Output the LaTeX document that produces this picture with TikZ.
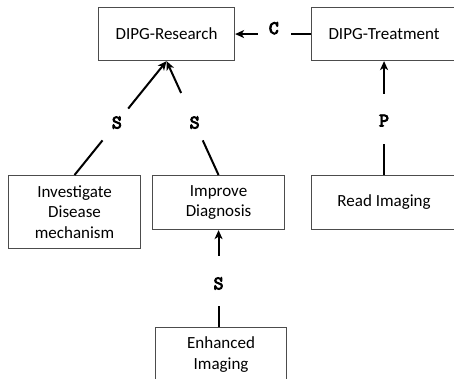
\documentclass[tikz,border=0pt]{standalone}
\usepackage{fontspec}
\setmainfont{Carlito}
\newfontfamily\labelfont{Latin Modern Mono}[FakeBold=5]
\usetikzlibrary{arrows.meta}
\begin{document}
\begin{tikzpicture}[x=1pt,y=-1pt,
  goal/.style={draw=black!70,line width=1.1pt,align=center,font=\fontsize{17}{20.7}\selectfont,inner sep=0pt,anchor=north west},
  rel/.style={font=\labelfont\fontsize{19}{20}\selectfont,inner sep=0pt},
  link/.style={line width=2pt},
  linkarrow/.style={line width=2pt,-{Stealth[length=9pt,width=8pt,inset=2.5pt]}}]
\useasboundingbox (0,0) rectangle (454,379);
% goal boxes
\node[goal,minimum width=136pt,minimum height=53pt] (res) at (98,7) {DIPG-Research};
\node[goal,minimum width=145pt,minimum height=53pt] (treat) at (311,7) {DIPG-Treatment};
\node[goal,minimum width=132pt,minimum height=73pt] (inv) at (8,175) {Investigate\\Disease\\mechanism};
\node[goal,minimum width=132pt,minimum height=54pt] (imp) at (152,175) {Improve\\Diagnosis};
\node[goal,minimum width=145pt,minimum height=54pt] (read) at (311,175) {Read Imaging};
\node[goal,minimum width=131pt,minimum height=54pt] (enh) at (155,327) {Enhanced\\Imaging};
% C link
\path (treat.west) -- (res.east)
  coordinate[pos=0.26] (ca) node[pos=0.49,rel,anchor=base] (c) {C} coordinate[pos=0.70] (cb);
\draw[link] (treat.west) -- (ca);
\draw[linkarrow] (cb) -- (res.east);
% S link from Investigate
\path (inv.north) -- (res.south)
  coordinate[pos=0.304] (s1a) node[pos=0.46,rel] (s1) {S} coordinate[pos=0.583] (s1b);
\draw[link] (inv.north) -- (s1a);
\draw[linkarrow] (s1b) -- (res.south);
% S link from Improve
\path (imp.north) -- (res.south)
  coordinate[pos=0.304] (s2a) node[pos=0.46,rel] (s2) {S} coordinate[pos=0.72] (s2b);
\draw[link] (imp.north) -- (s2a);
\draw[linkarrow] (s2b) -- (res.south);
% P link
\path (read.north) -- (treat.south)
  coordinate[pos=0.27] (pa) node[pos=0.478,rel] (p) {P} coordinate[pos=0.713] (pb);
\draw[link] (read.north) -- (pa);
\draw[linkarrow] (pb) -- (treat.south);
% S link from Enhanced
\path (enh.north -| imp.south) -- (imp.south)
  coordinate[pos=0.214] (s3a) node[pos=0.449,rel] (s3) {S} coordinate[pos=0.735] (s3b);
\draw[link] (enh.north -| imp.south) -- (s3a);
\draw[linkarrow] (s3b) -- (imp.south);
\end{tikzpicture}
\end{document}
